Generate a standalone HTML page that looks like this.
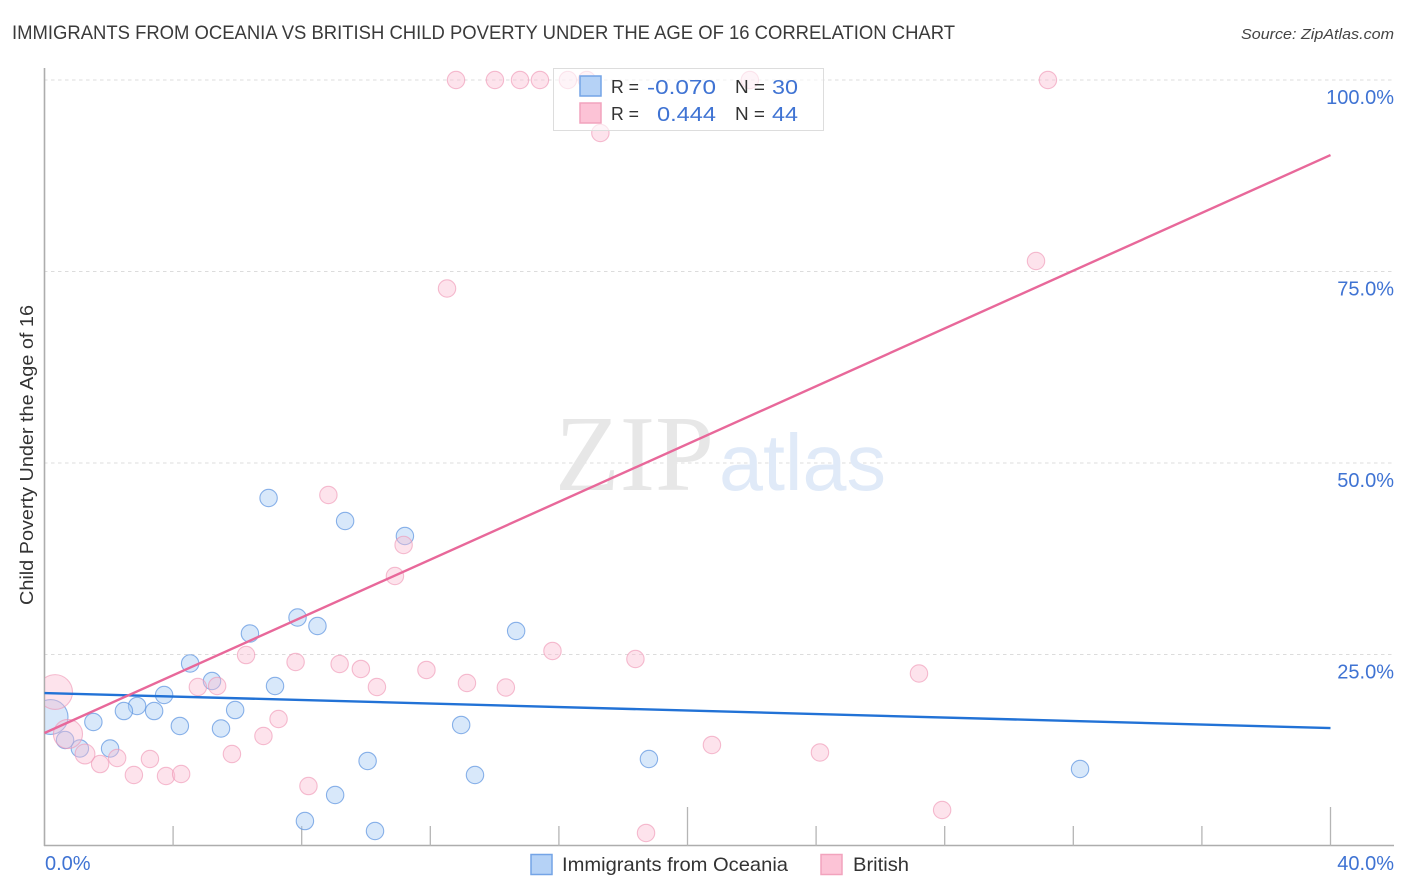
<!DOCTYPE html>
<html lang="en">
<head>
<meta charset="utf-8">
<title>Immigrants from Oceania vs British Child Poverty Correlation Chart</title>
<style>
html,body{margin:0;padding:0;background:#fff;width:1406px;height:892px;overflow:hidden}
svg{display:block}
text{font-family:"Liberation Sans",sans-serif}
.val{fill:#3f73d3;font-size:20px}
.lbl{fill:#333;font-size:18px}
</style>
</head>
<body>
<svg id="chart" xmlns="http://www.w3.org/2000/svg" width="1406" height="892" viewBox="0 0 1406 892">
<defs><clipPath id="plot-clip"><rect x="45" y="60" width="1349" height="786"/></clipPath></defs>
<rect width="1406" height="892" fill="#fff"/>
<text x="12" y="39" font-size="19" fill="#3a3a3a" textLength="943" lengthAdjust="spacingAndGlyphs">IMMIGRANTS FROM OCEANIA VS BRITISH CHILD POVERTY UNDER THE AGE OF 16 CORRELATION CHART</text>
<text x="1241" y="39" font-size="15" font-style="italic" fill="#444" textLength="153" lengthAdjust="spacingAndGlyphs">Source: ZipAtlas.com</text>
<text transform="translate(33,605) rotate(-90)" font-size="18" fill="#333" textLength="300" lengthAdjust="spacingAndGlyphs">Child Poverty Under the Age of 16</text>
<g id="grid"></g>
<g>
<text x="555" y="490" font-size="108" fill="#e7e7e7" style="font-family:'Liberation Serif',serif" textLength="159" lengthAdjust="spacingAndGlyphs">ZIP</text>
<text x="719" y="490" font-size="80" fill="#e0eaf8" textLength="167" lengthAdjust="spacingAndGlyphs">atlas</text>
</g>
<g id="axes"></g>
<g id="points-blue" clip-path="url(#plot-clip)"></g>
<g id="points-pink" clip-path="url(#plot-clip)"></g>
<g id="lines"></g>
<g id="ylabels"></g>
<g id="xlabels"></g>
<g>
<rect x="553.5" y="68.5" width="270" height="62" fill="#fff" fill-opacity="0.62" stroke="#ddd" stroke-width="1"/>
<rect x="580" y="76" width="21" height="20" fill="#b5d2f6" stroke="#74a4e6" stroke-width="1.5"/>
<rect x="580" y="103" width="21" height="20" fill="#fcc3d6" stroke="#f2a3bd" stroke-width="1.5"/>
<text class="lbl" x="611" y="93" textLength="28" lengthAdjust="spacingAndGlyphs">R =</text>
<text class="val" x="647" y="94" textLength="69" lengthAdjust="spacingAndGlyphs">-0.070</text>
<text class="lbl" x="735" y="93" textLength="30" lengthAdjust="spacingAndGlyphs">N =</text>
<text class="val" x="772" y="94" textLength="26" lengthAdjust="spacingAndGlyphs">30</text>
<text class="lbl" x="611" y="120" textLength="28" lengthAdjust="spacingAndGlyphs">R =</text>
<text class="val" x="657" y="121" textLength="59" lengthAdjust="spacingAndGlyphs">0.444</text>
<text class="lbl" x="735" y="120" textLength="30" lengthAdjust="spacingAndGlyphs">N =</text>
<text class="val" x="772" y="121" textLength="26" lengthAdjust="spacingAndGlyphs">44</text>
</g>
<g>
<rect x="531" y="854.5" width="21" height="20" fill="#b5d2f6" stroke="#74a4e6" stroke-width="1.5"/>
<text x="562" y="871" font-size="19.5" fill="#333" textLength="226" lengthAdjust="spacingAndGlyphs">Immigrants from Oceania</text>
<rect x="821" y="854.5" width="21" height="20" fill="#fcc3d6" stroke="#f2a3bd" stroke-width="1.5"/>
<text x="853" y="871" font-size="19.5" fill="#333" textLength="56" lengthAdjust="spacingAndGlyphs">British</text>
</g>
</svg>
<script>
var xTicks = [0, 4, 8, 12, 16, 20, 24, 28, 32, 36, 40];
var xMajorTicks = [0, 20, 40];
var xTickLabels = ["0.0%", "40.0%"];
var xTickLabelValues = [0, 40];
var yTicks = [100, 75, 50, 25];
var yTickLabels = ["100.0%", "75.0%", "50.0%", "25.0%"];

var blueX = [6.97, 9.35, 11.21, 7.87, 6.39, 8.49, 14.67, 4.53, 5.21, 7.17, 3.72, 2.88, 2.47, 3.41, 5.93, 4.21, 5.49, 1.52, 12.96, 2.04, 1.10, 0.64, 10.05, 18.80, 13.39, 32.21, 9.04, 8.10, 10.28, 0.19];
var blueY = [45.43, 42.43, 40.47, 29.83, 27.74, 28.72, 28.07, 23.83, 21.54, 20.89, 19.71, 18.28, 17.62, 17.62, 17.75, 15.67, 15.34, 16.19, 15.80, 12.73, 12.73, 13.84, 11.10, 11.36, 9.27, 10.05, 6.66, 3.26, 1.96, 16.84];
var blueWeight = [1, 1, 1, 1, 1, 1, 1, 1, 1, 1, 1, 1, 1, 1, 1, 1, 1, 1, 1, 1, 1, 1, 1, 1, 1, 1, 1, 1, 1, 4];

var pinkX = [12.80, 14.01, 14.79, 15.41, 16.28, 16.87, 21.94, 31.21, 17.29, 30.84, 12.52, 8.83, 11.17, 10.90, 15.80, 18.38, 6.27, 7.81, 9.18, 9.84, 11.88, 27.20, 13.14, 10.34, 14.35, 4.77, 5.37, 7.28, 6.81, 5.83, 20.76, 24.12, 3.28, 2.26, 1.73, 1.26, 2.78, 3.78, 4.25, 8.21, 27.92, 18.71, 0.33, 0.73];
var pinkY = [100, 100, 100, 100, 100, 100, 100, 100, 93.08, 76.37, 72.78, 45.82, 39.30, 35.25, 25.46, 24.41, 24.93, 24.02, 23.76, 23.11, 22.98, 22.52, 21.28, 20.76, 20.69, 20.76, 20.89, 16.58, 14.36, 12.01, 13.19, 12.21, 11.36, 11.49, 10.70, 12.01, 9.27, 9.14, 9.40, 7.83, 4.70, 1.70, 20.10, 14.62];
var pinkWeight = [1, 1, 1, 1, 1, 1, 1, 1, 1, 1, 1, 1, 1, 1, 1, 1, 1, 1, 1, 1, 1, 1, 1, 1, 1, 1, 1, 1, 1, 1, 1, 1, 1, 1, 1, 1.3, 1, 1, 1, 1, 1, 1, 4, 2.8];

var blueTrendX = [0, 40];
var blueTrendY = [19.97, 15.4];
var pinkTrendX = [0, 40];
var pinkTrendY = [14.75, 90.2];

var NS = "http://www.w3.org/2000/svg";
function xScale(v) { return 44.5 + v / 40 * 1286; }
function yScale(v) { return 846 - v / 100 * 766; }
function rScale(w) { return 8.7 * Math.sqrt(w); }
function make(tag, parent, props) {
  var el = document.createElementNS(NS, tag);
  for (var k in props) { el.setAttribute(k, props[k]); }
  document.getElementById(parent).appendChild(el);
  return el;
}

yTicks.forEach(function (t) {
  var g = make("line", "grid", { x1: 44, x2: 1394, y1: yScale(t), y2: yScale(t), stroke: "#dcdcdc", "stroke-width": 1, "stroke-dasharray": "3.5 3.5" });
  
  
});

var yAxisLine = make("line", "axes", { x1: 44.5, x2: 44.5, y1: 68, y2: 846, stroke: "#adadad", "stroke-width": 1.6 });


var xAxisLine = make("line", "axes", { x1: 44, x2: 1394, y1: 845.5, y2: 845.5, stroke: "#adadad", "stroke-width": 1.6 });


xTicks.forEach(function (t) {
  if (t === 0) { return; }
  var major = xMajorTicks.indexOf(t) >= 0;
  var tk = make("line", "axes", { x1: xScale(t), x2: xScale(t), y1: major ? 807 : 826, y2: 846, stroke: "#b5b5b5", "stroke-width": 1.3 });
  
  
});

blueX.forEach(function (v, i) {
  var c = make("circle", "points-blue", { cx: xScale(v), cy: yScale(blueY[i]), r: rScale(blueWeight[i]), fill: "#a9cbf3", "fill-opacity": 0.45, stroke: "#5b93e0", "stroke-opacity": 0.7, "stroke-width": 1.1 });
  
  
});
pinkX.forEach(function (v, i) {
  var c = make("circle", "points-pink", { cx: xScale(v), cy: yScale(pinkY[i]), r: rScale(pinkWeight[i]), fill: "#fbbdd2", "fill-opacity": 0.42, stroke: "#ef93b2", "stroke-opacity": 0.6, "stroke-width": 1.1 });
  
  
});

var blueLine = make("line", "lines", { x1: xScale(blueTrendX[0]), y1: yScale(blueTrendY[0]), x2: xScale(blueTrendX[1]), y2: yScale(blueTrendY[1]), stroke: "#2272d6", "stroke-width": 2.4 });


var pinkLine = make("line", "lines", { x1: xScale(pinkTrendX[0]), y1: yScale(pinkTrendY[0]), x2: xScale(pinkTrendX[1]), y2: yScale(pinkTrendY[1]), stroke: "#e8689a", "stroke-width": 2.4 });



yTicks.forEach(function (t, i) {
  var lb = make("text", "ylabels", { x: 1394, y: yScale(t) + 24, "text-anchor": "end", "class": "val" });
  
  
  lb.textContent = yTickLabels[i];
});
xTickLabelValues.forEach(function (t, i) {
  var lb = make("text", "xlabels", { x: i === 0 ? xScale(t) + 0.5 : 1394, y: 870, "text-anchor": i === 0 ? "start" : "end", "class": "val" });
  
  
  lb.textContent = xTickLabels[i];
});
</script>
</body>
</html>
